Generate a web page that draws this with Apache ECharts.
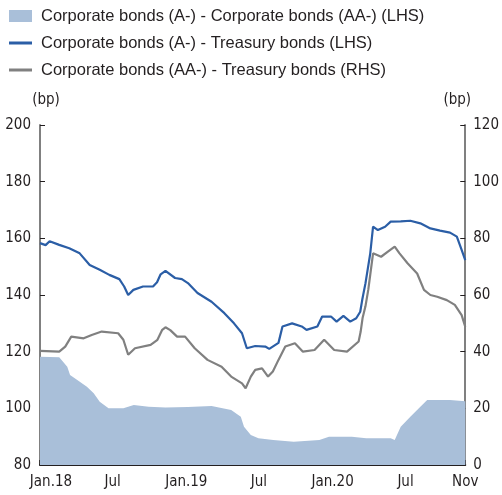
<!DOCTYPE html>
<html>
<head>
<meta charset="utf-8">
<script src="https://cdn.jsdelivr.net/npm/echarts@6/dist/echarts.min.js"></script>
<style>
html,body{margin:0;padding:0;background:#fff;}
#chart{width:502px;height:495px;}
</style>
</head>
<body>
<div id="chart"></div>
<script>
// Corporate bonds (A-) - Corporate bonds (AA-) (LHS), bp
var ratingDates = ['2018-01-01','2018-02-18','2018-03-10','2018-03-17','2018-04-04','2018-04-28','2018-05-15','2018-05-30','2018-06-21','2018-07-28','2018-08-23','2018-09-29','2018-11-10','2019-01-05','2019-03-05','2019-04-23','2019-05-17','2019-05-25','2019-06-11','2019-06-30','2019-08-06','2019-09-26','2019-11-29','2019-12-23','2020-02-18','2020-03-25','2020-05-25','2020-06-04','2020-06-19','2020-07-13','2020-08-07','2020-08-24','2020-10-20','2020-11-27'];
var ratingValues = [118.2,118,114.7,111.8,110,107.6,105.3,102.3,100,100,101.2,100.6,100.3,100.5,100.8,99.4,97,93.5,90.6,89.4,88.8,88.2,88.8,90,90,89.4,89.4,88.8,93.5,97,100.6,102.9,102.9,102.5];

// Corporate bonds (A-) - Treasury bonds (LHS), bp
var aDates = ['2018-01-01','2018-01-15','2018-01-25','2018-02-18','2018-03-15','2018-04-10','2018-05-05','2018-05-30','2018-06-23','2018-07-18','2018-07-30','2018-08-09','2018-08-22','2018-09-15','2018-10-10','2018-10-20','2018-10-29','2018-11-10','2018-12-04','2018-12-21','2019-01-05','2019-01-29','2019-03-05','2019-04-06','2019-04-30','2019-05-20','2019-06-01','2019-06-22','2019-07-17','2019-07-27','2019-08-19','2019-08-29','2019-09-22','2019-10-16','2019-10-28','2019-11-24','2019-12-06','2019-12-28','2020-01-11','2020-01-28','2020-02-14','2020-02-29','2020-03-10','2020-03-15','2020-03-23','2020-04-04','2020-04-11','2020-04-23','2020-05-11','2020-05-25','2020-06-19','2020-07-13','2020-08-07','2020-09-01','2020-09-25','2020-10-20','2020-11-06','2020-11-18','2020-11-27'];
var aValues = [158.3,157.6,159,157.7,156.5,154.7,150.6,148.9,147.1,145.6,143,140,141.8,143,143,144.5,147.3,148.5,146,145.6,144.2,140.7,137.6,133.6,130,126.5,121.2,122,121.8,121,123.1,128.9,130,128.9,127.7,128.9,132.4,132.4,130.6,132.6,130.6,131.8,134.1,138.3,144.1,154.7,164.1,162.9,164.1,165.9,166,166.2,165.3,163.5,162.7,162,160.6,155.9,152.3];

// Corporate bonds (AA-) - Treasury bonds (RHS), bp
var aaDates = ['2018-01-01','2018-02-18','2018-03-05','2018-03-20','2018-04-20','2018-05-10','2018-06-04','2018-07-15','2018-07-28','2018-08-09','2018-08-26','2018-10-04','2018-10-21','2018-11-02','2018-11-10','2018-11-22','2018-12-09','2018-12-29','2019-01-22','2019-02-23','2019-03-30','2019-04-23','2019-05-20','2019-05-29','2019-06-11','2019-06-22','2019-07-09','2019-07-24','2019-08-05','2019-08-19','2019-09-05','2019-09-29','2019-10-19','2019-11-17','2019-12-11','2020-01-05','2020-02-06','2020-03-06','2020-03-11','2020-03-16','2020-03-23','2020-03-30','2020-04-11','2020-05-01','2020-05-18','2020-06-04','2020-06-16','2020-07-06','2020-07-30','2020-08-16','2020-09-01','2020-09-18','2020-10-12','2020-11-01','2020-11-18','2020-11-27'];
var aaValues = [40.3,40,41.8,45.3,44.7,45.9,47.1,46.5,44.2,38.9,41.2,42.4,44.2,47.7,48.6,47.6,45.3,45.3,41.2,37.1,34.7,31.2,28.8,27.1,31.2,33.6,34.1,31.2,33,37.1,41.8,43,40,40.6,44.2,40.6,40,43.6,47,52,56,61.8,74.7,73.5,75.3,77.1,74.7,71.2,67.6,61.8,60,59.4,58.2,56.5,52.9,48.8];

var xTickDates = ['2018-01-01','2018-07-01','2019-01-01','2019-07-01','2020-01-01','2020-07-01','2020-11-27'];
var xTickLabels = ['Jan.18','Jul','Jan.19','Jul','Jan.20','Jul','Nov'];
var leftTicks = [80,100,120,140,160,180,200];
var rightTicks = [0,20,40,60,80,100,120];

var names = ['Corporate bonds (A-) - Corporate bonds (AA-) (LHS)','Corporate bonds (A-) - Treasury bonds (LHS)','Corporate bonds (AA-) - Treasury bonds (RHS)'];

function ts(s){ var p = s.split('-'); return Date.UTC(+p[0], +p[1]-1, +p[2]); }
function pairs(d, v){ return d.map(function(x,i){ return [ts(x), v[i]]; }); }
var tickTs = xTickDates.map(ts);

var narrow = "'Liberation Sans Narrow','Arial Narrow','DejaVu Sans Condensed','Liberation Sans',sans-serif";
var regular = "'Liberation Sans',Arial,Helvetica,sans-serif";
var tickFont = 15;

var chart = echarts.init(document.getElementById('chart'), null, {renderer:'canvas'});
function legendCfg(name, top, h){
  return {
    data:[{name:name}], left:9, top:top, padding:0, itemWidth:23, itemHeight:h, icon:'rect',
    selectedMode:false,
    textStyle:{fontFamily:regular, fontSize:16.5, color:'#231f20', padding:[0,0,0,4], lineHeight:20}
  };
}
chart.setOption({
  animation:false,
  legend:[ legendCfg(names[0], 6, 12), legendCfg(names[1], 33, 3), legendCfg(names[2], 60, 3) ],
  grid:{left:40, right:28, top:125, bottom:30},
  xAxis:{
    type:'value', min:tickTs[0], max:tickTs[tickTs.length-1],
    axisLine:{lineStyle:{color:'#231f20', width:2}},
    axisTick:{inside:true, length:5, lineStyle:{color:'#231f20', width:1.5}, customValues:tickTs},
    axisLabel:{
      customValues:tickTs, margin:10, fontFamily:narrow, fontSize:tickFont, color:'#231f20',
      showMinLabel:true, showMaxLabel:true,
      formatter:function(v){
        var best=0, bd=Infinity;
        for (var i=0;i<tickTs.length;i++){ var d=Math.abs(tickTs[i]-v); if(d<bd){bd=d;best=i;} }
        return best===0 ? '{first|'+xTickLabels[0]+'}' : xTickLabels[best];
      },
      rich:{first:{fontFamily:narrow, fontSize:tickFont, color:'#231f20', padding:[0,0,0,22]}}
    },
    splitLine:{show:false}
  },
  yAxis:[{
    type:'value', min:leftTicks[0], max:leftTicks[leftTicks.length-1], interval:20,
    name:'(bp)', nameLocation:'end', nameGap:17,
    nameTextStyle:{fontFamily:narrow, fontSize:tickFont, color:'#231f20', padding:[0,0,0,12]},
    axisLine:{show:true, lineStyle:{color:'#808080', width:2}},
    axisTick:{show:true, inside:true, length:5, lineStyle:{color:'#231f20'}},
    axisLabel:{margin:9, fontFamily:narrow, fontSize:tickFont, color:'#231f20'},
    splitLine:{show:false}
  },{
    type:'value', min:rightTicks[0], max:rightTicks[rightTicks.length-1], interval:20, position:'right',
    name:'(bp)', nameLocation:'end', nameGap:17,
    nameTextStyle:{fontFamily:narrow, fontSize:tickFont, color:'#231f20', padding:[0,16,0,0]},
    axisLine:{show:true, lineStyle:{color:'#808080', width:2}},
    axisTick:{show:true, inside:true, length:5, lineStyle:{color:'#231f20'}},
    axisLabel:{margin:8, fontFamily:narrow, fontSize:tickFont, color:'#231f20'},
    splitLine:{show:false}
  }],
  series:[{
    name:names[0], type:'line', yAxisIndex:0, data:pairs(ratingDates, ratingValues),
    showSymbol:false, symbol:'none', color:'#a9bfd9',
    lineStyle:{width:0}, areaStyle:{color:'#a9bfd9', opacity:1, origin:'start'}, z:1
  },{
    name:names[2], type:'line', yAxisIndex:1, data:pairs(aaDates, aaValues),
    showSymbol:false, symbol:'none', color:'#808080', lineStyle:{width:2.2, color:'#808080'}, z:2
  },{
    name:names[1], type:'line', yAxisIndex:0, data:pairs(aDates, aValues),
    showSymbol:false, symbol:'none', color:'#2b5ea6', lineStyle:{width:2.2, color:'#2b5ea6'}, z:3
  }]
});
</script>
</body>
</html>
